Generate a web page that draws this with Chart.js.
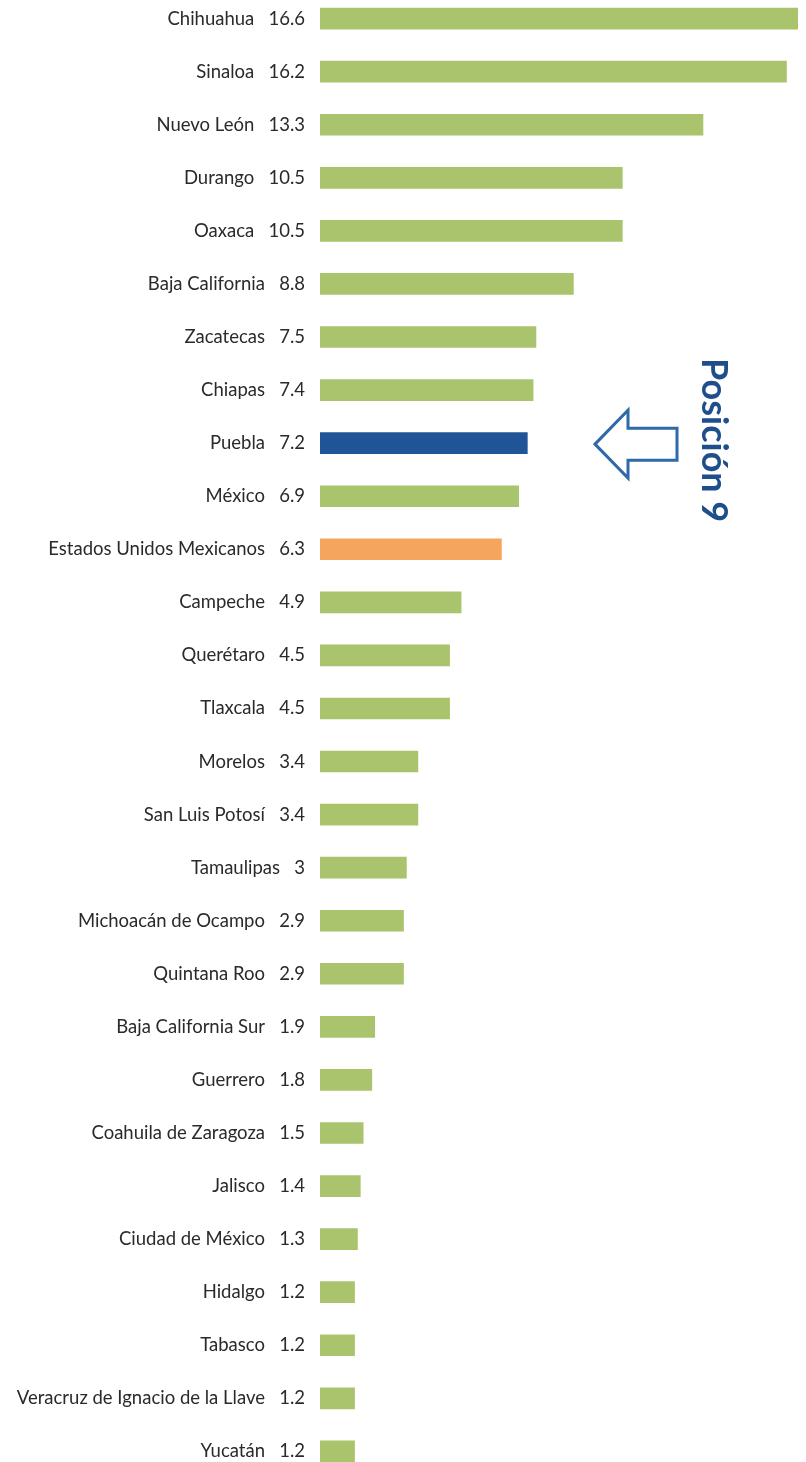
<!DOCTYPE html>
<html>
<head>
<meta charset="utf-8">
<script src="https://cdn.jsdelivr.net/npm/chart.js@4"></script>
<style>
html,body{margin:0;padding:0;background:#fff;overflow:hidden;width:806px;height:1462px;}
#wrap{position:absolute;left:0;top:-34px;width:806px;height:1538px;}
</style>
</head>
<body>
<div id="wrap"><canvas id="c"></canvas></div>
<script>
const states = ["Chihuahua","Sinaloa","Nuevo León","Durango","Oaxaca","Baja California","Zacatecas","Chiapas","Puebla","México","Estados Unidos Mexicanos","Campeche","Querétaro","Tlaxcala","Morelos","San Luis Potosí","Tamaulipas","Michoacán de Ocampo","Quintana Roo","Baja California Sur","Guerrero","Coahuila de Zaragoza","Jalisco","Ciudad de México","Hidalgo","Tabasco","Veracruz de Ignacio de la Llave","Yucatán"];
const values = [16.6,16.2,13.3,10.5,10.5,8.8,7.5,7.4,7.2,6.9,6.3,4.9,4.5,4.5,3.4,3.4,3,2.9,2.9,1.9,1.8,1.5,1.4,1.3,1.2,1.2,1.2,1.2];
const highlight = "Puebla";
const national = "Estados Unidos Mexicanos";
const annotationText = "Posición 9";

const GREEN = "#A9C46C", BLUE = "#1F5596", ORANGE = "#F5A65C", DARKBLUE = "#1F4E8C", ARROW = "#2E69A8";
const labels = states.map((s,i)=> s + "   " + String(values[i]));
const colors = states.map(s => s===highlight ? BLUE : (s===national ? ORANGE : GREEN));

const arrowPlugin = {
  id:'arrowPlugin',
  afterDraw(chart){
    const ctx = chart.ctx;
    const y = chart.scales.y.getPixelForValue(states.indexOf(highlight));
    const tipX = 595, headX = 628, endX = 677;
    ctx.save();
    ctx.strokeStyle = ARROW; ctx.lineWidth = 3; ctx.lineJoin='miter';
    ctx.beginPath();
    ctx.moveTo(tipX, y+1);
    ctx.lineTo(headX, y-33);
    ctx.lineTo(headX, y-15);
    ctx.lineTo(endX, y-15);
    ctx.lineTo(endX, y+17);
    ctx.lineTo(headX, y+17);
    ctx.lineTo(headX, y+35);
    ctx.closePath();
    ctx.stroke();
    ctx.translate(714, y-3);
    ctx.rotate(Math.PI/2);
    ctx.fillStyle = DARKBLUE;
    ctx.font = "bold 36px Lato";
    ctx.textAlign='center'; ctx.textBaseline='middle';
    ctx.fillText(annotationText, 0, 0);
    ctx.restore();
  }
};

new Chart(document.getElementById('c'), {
  type:'bar',
  data:{labels, datasets:[{data:values, backgroundColor:colors, barThickness:21, borderWidth:0}]},
  options:{
    indexAxis:'y', responsive:true, maintainAspectRatio:false, animation:false,
    layout:{padding:{left:0,right:8,top:0,bottom:0}},
    plugins:{legend:{display:false}, tooltip:{enabled:false}},
    scales:{
      x:{display:false, min:0, max:16.6},
      y:{
        afterFit(s){ s.width = 320; },
        grid:{display:false, drawTicks:false}, border:{display:false},
        ticks:{padding:15, color:'#2a2a2a', font:{family:'Lato', size:18.5}}
      }
    }
  },
  plugins:[arrowPlugin]
});
</script>
</body>
</html>
